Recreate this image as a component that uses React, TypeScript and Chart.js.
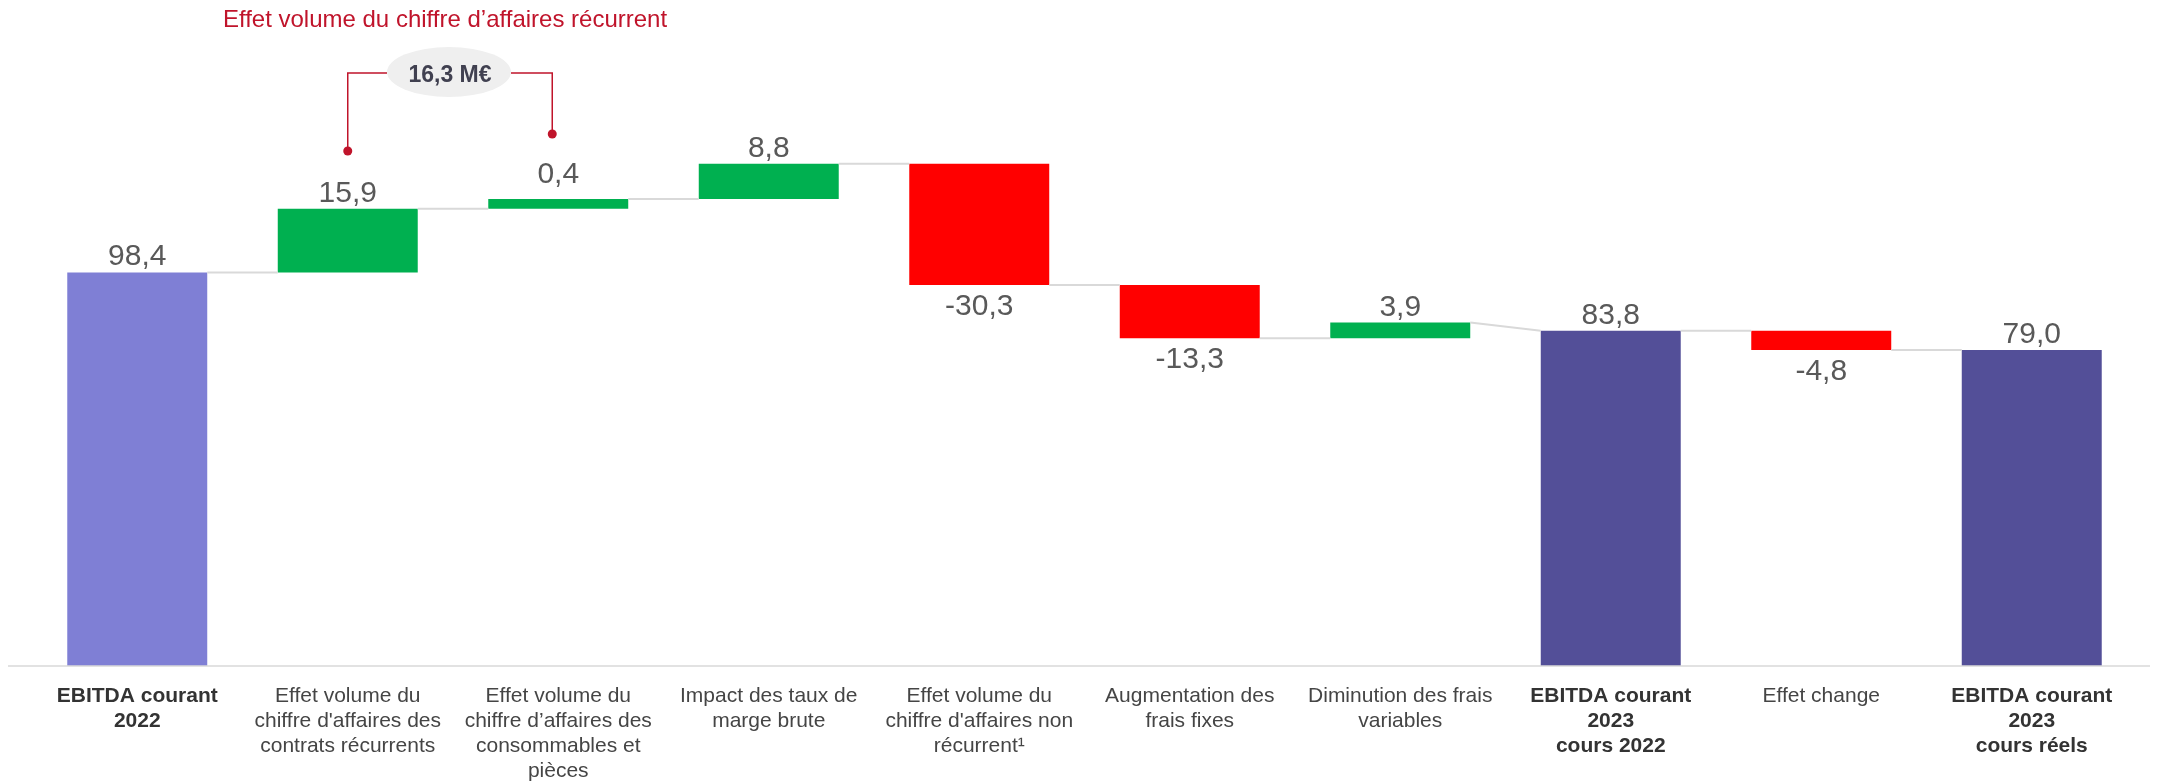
import React, { useEffect, useRef } from "react";
import { Chart, registerables } from "chart.js";

Chart.register(...registerables);

// ---------- DATA ----------
const categories: string[][] = [
  ["EBITDA courant", "2022"],
  ["Effet volume du", "chiffre d'affaires des", "contrats récurrents"],
  ["Effet volume du", "chiffre d’affaires des", "consommables et", "pièces"],
  ["Impact des taux de", "marge brute"],
  ["Effet volume du", "chiffre d'affaires non", "récurrent¹"],
  ["Augmentation des", "frais fixes"],
  ["Diminution des frais", "variables"],
  ["EBITDA courant", "2023", "cours 2022"],
  ["Effet change"],
  ["EBITDA courant", "2023", "cours réels"],
];
const values = [98.4, 15.9, 0.4, 8.8, -30.3, -13.3, 3.9, 83.8, -4.8, 79.0];
const isTotal = [true, false, false, false, false, false, false, true, false, true];
const calloutTitle = "Effet volume du chiffre d’affaires récurrent";
const calloutValue = "16,3 M€";
const yMin = 0;
const yMax = 160;

// ---------- STYLE ----------
const FONT = "'Liberation Sans', Arial, Helvetica, sans-serif";
const MIN_VISIBLE = 2.45; // smallest drawn bar height (value units)
const GREEN = "#00B050";
const RED = "#FF0000";
const TOTAL_FIRST = "#7F7FD5";
const TOTAL_OTHER = "#534F98";
const CRIMSON = "#C0142B";

// floating bars for the waterfall
const floating: [number, number][] = [];
{
  let run = 0;
  values.forEach((v, i) => {
    if (isTotal[i]) {
      floating.push([0, v]);
      run = v;
    } else {
      const h = Math.sign(v) * Math.max(Math.abs(v), MIN_VISIBLE);
      floating.push([run, run + h]);
      run += h;
    }
  });
}
const barColors = values.map((v, i) =>
  isTotal[i] ? (i === 0 ? TOTAL_FIRST : TOTAL_OTHER) : v >= 0 ? GREEN : RED
);
const fmt = (v: number) => v.toFixed(1).replace(".", ",");

const overlayPlugin = {
  id: "overlay",
  afterDatasetsDraw(chart: any) {
    const ctx: CanvasRenderingContext2D = chart.ctx;
    const meta = chart.getDatasetMeta(0);
    const ys = chart.scales.y;

    // baseline
    ctx.save();
    ctx.strokeStyle = "#D9D9D9";
    ctx.lineWidth = 1.5;
    const y0 = ys.getPixelForValue(0);
    ctx.beginPath();
    ctx.moveTo(8, y0);
    ctx.lineTo(2150, y0);
    ctx.stroke();

    // connectors
    ctx.lineWidth = 2;
    for (let i = 0; i < floating.length - 1; i++) {
      const a = meta.data[i];
      const b = meta.data[i + 1];
      const endA = floating[i][1];
      const startB = isTotal[i + 1] ? floating[i + 1][1] : floating[i + 1][0];
      ctx.beginPath();
      ctx.moveTo(a.x + a.width / 2, ys.getPixelForValue(endA));
      ctx.lineTo(b.x - b.width / 2, ys.getPixelForValue(startB));
      ctx.stroke();
    }

    // value labels
    ctx.font = `30px ${FONT}`;
    ctx.fillStyle = "#595959";
    ctx.textAlign = "center";
    ctx.textBaseline = "alphabetic";
    values.forEach((v, i) => {
      const el = meta.data[i];
      const lo = Math.min(floating[i][0], floating[i][1]);
      const hi = Math.max(floating[i][0], floating[i][1]);
      if (v >= 0) {
        const gap = Math.abs(v) < MIN_VISIBLE ? 16 : 7;
        ctx.fillText(fmt(v), el.x, ys.getPixelForValue(hi) - gap);
      } else {
        ctx.fillText(fmt(v), el.x, ys.getPixelForValue(lo) + 30);
      }
    });

    // callout
    const x2 = meta.data[1].x;
    const x3 = meta.data[2].x - 6;
    const cx = (meta.data[1].x + meta.data[2].x) / 2 - 4;
    const cy = 72;
    const rx = 62;
    const ry = 25;

    ctx.fillStyle = CRIMSON;
    ctx.font = `24px ${FONT}`;
    ctx.fillText(calloutTitle, cx - 4, 27);

    ctx.strokeStyle = CRIMSON;
    ctx.lineWidth = 1.5;
    ctx.beginPath();
    ctx.moveTo(cx - rx, 73);
    ctx.lineTo(x2, 73);
    ctx.lineTo(x2, 151);
    ctx.moveTo(cx + rx, 73);
    ctx.lineTo(x3, 73);
    ctx.lineTo(x3, 134);
    ctx.stroke();
    ctx.beginPath();
    ctx.arc(x2, 151, 4.5, 0, Math.PI * 2);
    ctx.fill();
    ctx.beginPath();
    ctx.arc(x3, 134, 4.5, 0, Math.PI * 2);
    ctx.fill();

    ctx.fillStyle = "#EFEFEF";
    ctx.beginPath();
    ctx.ellipse(cx, cy, rx, ry, 0, 0, Math.PI * 2);
    ctx.fill();
    ctx.fillStyle = "#404050";
    ctx.font = `bold 23px ${FONT}`;
    ctx.fillText(calloutValue, cx + 1, 82);
    ctx.restore();
  },
};

export default function App() {
  const ref = useRef<HTMLCanvasElement | null>(null);
  useEffect(() => {
    if (!ref.current) return;
    const chart = new Chart(ref.current, {
      type: "bar",
      data: {
        labels: categories as any,
        datasets: [
          {
            data: floating as any,
            backgroundColor: barColors,
            borderWidth: 0,
            barPercentage: 0.665,
            categoryPercentage: 1.0,
          },
        ],
      },
      options: {
        animation: false,
        responsive: true,
        maintainAspectRatio: false,
        layout: { padding: { left: 32, right: 20, top: 26, bottom: 0 } },
        plugins: {
          legend: { display: false },
          tooltip: { enabled: false },
          title: { display: false },
        },
        scales: {
          x: {
            grid: { display: false, drawTicks: false },
            border: { display: false },
            afterFit: (scale: any) => {
              scale.height = 118;
            },
            ticks: {
              autoSkip: false,
              maxRotation: 0,
              minRotation: 0,
              padding: 18,
              color: (c: any) => (isTotal[c.index] ? "#333333" : "#454545"),
              font: (c: any) => ({
                family: FONT,
                size: 21,
                lineHeight: "25px",
                weight: isTotal[c.index] ? "bold" : "normal",
              }),
            },
          },
          y: {
            display: false,
            min: yMin,
            max: yMax,
          },
        },
      },
      plugins: [overlayPlugin],
    });
    return () => chart.destroy();
  }, []);
  return (
    <div style={{ position: "absolute", left: 0, top: 0, width: 2157, height: 784 }}>
      <canvas ref={ref} style={{ width: "100%", height: "100%" }} />
    </div>
  );
}
